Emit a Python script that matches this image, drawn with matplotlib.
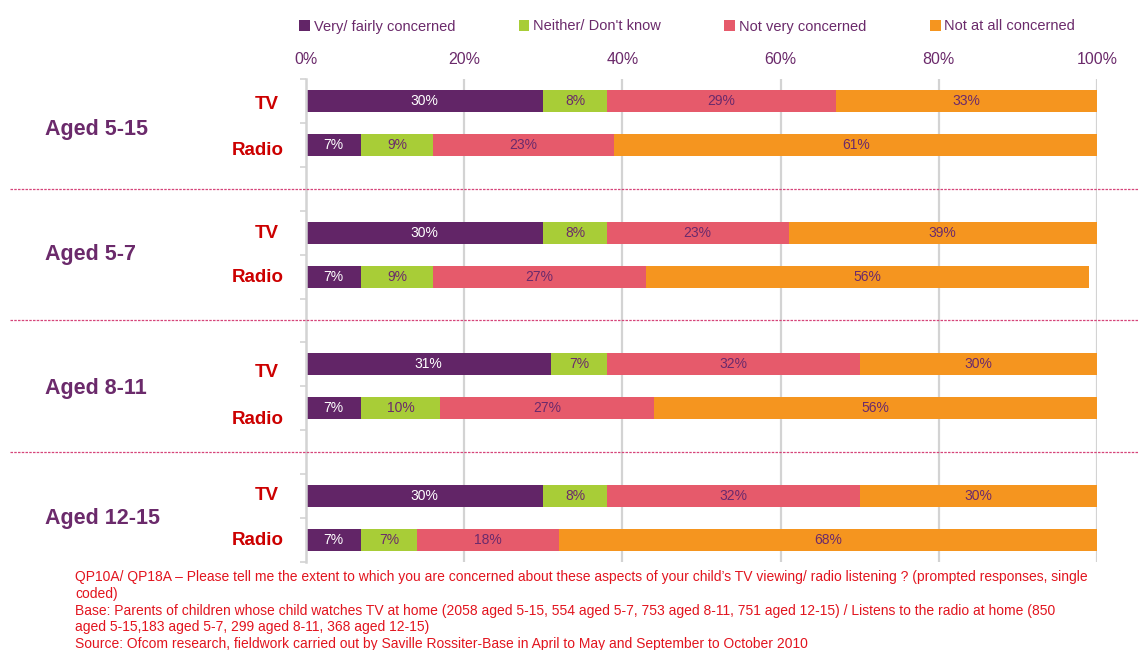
import matplotlib
matplotlib.use("Agg")
import matplotlib.pyplot as plt
from matplotlib.patches import Patch
from matplotlib.lines import Line2D
from matplotlib.transforms import blended_transform_factory

plt.rcParams['font.family'] = ['Liberation Sans', 'DejaVu Sans']

# ---- data ----
groups = ["Aged 5-15", "Aged 5-7", "Aged 8-11", "Aged 12-15"]
media = ["TV", "Radio"]
series_names = ["Very/ fairly concerned", "Neither/ Don't know",
                "Not very concerned", "Not at all concerned"]
# rows ordered: group0 TV, group0 Radio, group1 TV, ...
very_fairly = [30, 7, 30, 7, 31, 7, 30, 7]
neither = [8, 9, 8, 9, 7, 10, 8, 7]
not_very = [29, 23, 23, 27, 32, 27, 32, 18]
not_at_all = [33, 61, 39, 56, 30, 56, 30, 68]
x_ticks = [0, 20, 40, 60, 80, 100]
x_tick_labels = ["0%", "20%", "40%", "60%", "80%", "100%"]

footnote = [
    "QP10A/ QP18A \u2013 Please tell me the extent to which you are concerned about these aspects of your child\u2019s TV viewing/ radio listening ? (prompted responses, single",
    "coded)",
    "Base: Parents of children whose child watches TV at home (2058 aged 5-15, 554 aged 5-7, 753 aged 8-11, 751 aged 12-15) / Listens to the radio at home (850",
    "aged 5-15,183 aged 5-7, 299 aged 8-11, 368 aged 12-15)",
    "Source: Ofcom research, fieldwork carried out by Saville Rossiter-Base in April to May and September to October 2010",
]

# ---- style ----
colors = ["#622567", "#a8cd37", "#e65a6b", "#f5951f"]
text_colors = ["white", "#6b2a6b", "#6b2a6b", "#6b2a6b"]
purple = "#6b2a6b"
red = "#cc0000"
grid_grey = "#d3d3d3"

W, H = 1139, 650
fig = plt.figure(figsize=(W / 100, H / 100), dpi=100)
ax = fig.add_axes([306 / W, 1 - 562 / H, (1097 - 306) / W, (562 - 79) / H])

# each group takes three slots: TV, Radio, spacer
positions = []
for g in range(len(groups)):
    positions += [3 * g, 3 * g + 1]

series = [very_fairly, neither, not_very, not_at_all]
lefts = [0] * len(positions)
for s, vals in enumerate(series):
    ax.barh(positions, vals, left=lefts, height=0.5, color=colors[s],
            zorder=3, linewidth=0)
    for p, l, v in zip(positions, lefts, vals):
        ax.text(l + v / 2, p, f"{v}%", ha="center", va="center",
                fontsize=10, color=text_colors[s], zorder=4)
    lefts = [l + v for l, v in zip(lefts, vals)]

n_slots = 3 * len(groups) - 1
ax.set_ylim(n_slots - 0.5, -0.5)
ax.set_xlim(0, 100)

# vertical grid and axis styling
ax.xaxis.tick_top()
ax.set_xticks(x_ticks)
ax.set_xticklabels(x_tick_labels, fontsize=11.5, color=purple)
ax.tick_params(axis="x", length=0, pad=9)
for x in x_ticks[1:]:
    ax.axvline(x, color=grid_grey, lw=1.6, zorder=1)
ax.set_yticks([k - 0.5 for k in range(n_slots + 1)])
ax.set_yticklabels([])
ax.tick_params(axis="y", length=4, width=1.2, color=grid_grey)
for side in ["top", "right", "bottom"]:
    ax.spines[side].set_visible(False)
ax.spines["left"].set_color(grid_grey)
ax.spines["left"].set_linewidth(1.8)
ax.spines["left"].set_zorder(5)

# group separators across the full width
trans = blended_transform_factory(fig.transFigure, ax.transData)
for g in range(len(groups) - 1):
    y = 3 * g + 2
    fig.add_artist(Line2D([10 / W, 1.0], [y, y], transform=trans,
                          color="#d6457a", lw=0.9, linestyle=(0, (2, 1))))

# group and medium labels
group_nudge = [0.15, 0.0, 0.05, 0.0]
medium_nudge = [0.07, 0.12, 0.02, 0.02, 0.18, 0.25, -0.02, 0.0]
medium_right = {"TV": 279 / W, "Radio": 284 / W}
for g, name in enumerate(groups):
    fig.text(45 / W, 3 * g + 0.5 + group_nudge[g], name, transform=trans,
             ha="left", va="center", fontsize=15.5, fontweight="bold",
             color=purple)
    for m, med in enumerate(media):
        fig.text(medium_right[med], 3 * g + m + medium_nudge[2 * g + m], med,
                 transform=trans, ha="right", va="center", fontsize=13.5,
                 fontweight="bold", color=red)

# legend
handles = [Patch(facecolor=c, edgecolor="none") for c in colors]
fig.legend(handles, series_names, loc="center left",
           bbox_to_anchor=(299 / W, 1 - 26.5 / H), ncol=4, frameon=False,
           fontsize=10.5, labelcolor=purple, handlelength=0.75,
           handleheight=0.75, handletextpad=0.25, columnspacing=4.35,
           borderpad=0, borderaxespad=0)

# footnote
for i, line in enumerate(footnote):
    fig.text(75 / W, 1 - (577 + 16.8 * i) / H, line, ha="left", va="center",
             fontsize=10, color="#e2141e")

fig.savefig("out.png", dpi=100)
